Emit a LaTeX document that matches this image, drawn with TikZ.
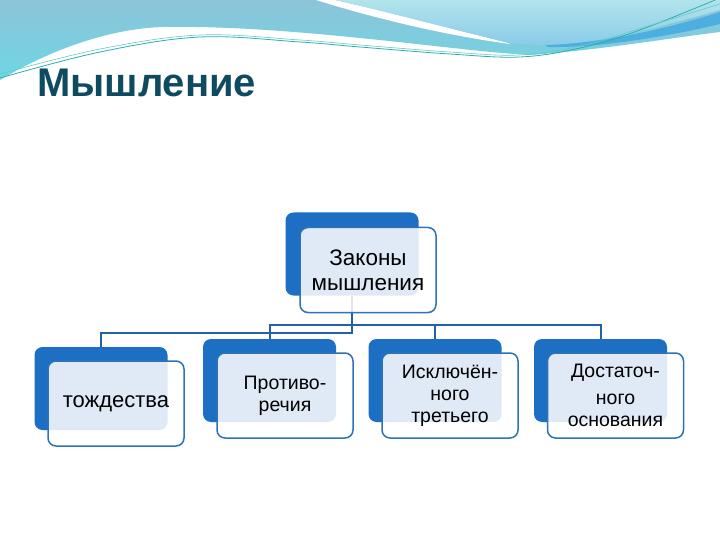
\documentclass[tikz,border=0pt]{standalone}
\usepackage{fontspec}
\setmainfont{Liberation Sans}
\definecolor{boxblue}{HTML}{1D6FC4}
\definecolor{edgeblue}{HTML}{2E72B8}
\definecolor{lineblue}{HTML}{2061A8}
\definecolor{titlecol}{HTML}{0E4A60}
\definecolor{lefttop}{HTML}{8CC4D8}
\definecolor{leftbot}{HTML}{6ED6E4}
\definecolor{righttop}{HTML}{B2E4EB}
\definecolor{rightbot}{HTML}{8ACBEA}
\definecolor{bandblue}{HTML}{4DAEE0}
\definecolor{tealline}{HTML}{2AAFB0}
\begin{document}
\begin{tikzpicture}[x=1pt,y=-1pt,
  back/.style={fill=boxblue, rounded corners=8pt, minimum width=133pt, minimum height=83pt, inner sep=0pt},
  front/.style={draw=edgeblue, line width=1.5pt, fill=white, fill opacity=0.86, text opacity=1, rounded corners=8pt, minimum width=136pt, minimum height=85pt, align=center, font=\fontsize{19.5}{22}\selectfont, inner sep=0pt},
  conn/.style={draw=lineblue, line width=2pt}]
\useasboundingbox (0,0) rectangle (720,540);
\fill[white] (0,0) rectangle (720,540);
% background waves
\shade[top color=lefttop, bottom color=leftbot]
  (0,0) -- (720,0) -- (720,32) .. controls (670,38) and (600,50) .. (530,55)
  .. controls (490,53) and (430,45) .. (360,38)
  .. controls (300,32) and (230,26) .. (165,27)
  .. controls (110,28) and (50,50) .. (0,80) -- cycle;
\fill[white] (316,0) .. controls (380,20) and (450,36) .. (510,44) -- (505,42)
  .. controls (440,26) and (380,10) .. (335,0) -- cycle;
\shade[top color=righttop, bottom color=rightbot]
  (335,0) -- (720,0) -- (720,10) .. controls (650,30) and (590,45) .. (545,45)
  .. controls (530,45) and (515,44) .. (505,42)
  .. controls (440,26) and (380,10) .. (335,0) -- cycle;
\fill[bandblue] (545,45) .. controls (600,44) and (670,28) .. (720,12) -- (720,24)
  .. controls (670,36) and (600,48) .. (548,47) -- cycle;
\draw[tealline, line width=0.8pt] plot[smooth, tension=0.6] coordinates
  {(0,78) (100,52) (200,37) (300,42) (360,47) (450,54) (520,57) (580,48) (640,30) (720,-2)};
\draw[tealline!70, line width=0.6pt] plot[smooth, tension=0.6] coordinates
  {(0,74) (100,49) (200,35) (300,40) (360,45) (450,52) (520,55) (585,45) (645,27) (720,4)};
% title
\node[anchor=base west, font=\bfseries\fontsize{40}{42}\selectfont, text=titlecol, inner sep=0pt] (title) at (37,97) {Мышление};
% back boxes
\node[back] (pb) at (352,254) {};
\node[back] (c1b) at (101,388.5) {};
\node[back] (c2b) at (269.5,380.5) {};
\node[back] (c3b) at (435,380.5) {};
\node[back] (c4b) at (600.5,380.5) {};
% connectors
\coordinate (j1) at (352,333);
\coordinate (j2) at (352,325);
\draw[conn] (pb.south) -- (j1) -| (c1b.north);
\draw[conn] (j2) -| (c2b.north);
\draw[conn] (j2) -| (c3b.north);
\draw[conn] (j2) -| (c4b.north);
% front boxes
\node[front, font=\fontsize{22.5}{25}\selectfont] (pf) at (368,270) {Законы\\мышления};
\node[front, font=\fontsize{22}{22}\selectfont] (c1f) at (116,403.5) {тождества};
\node[front] (c2f) at (285,395.5) {Противо-\\речия};
\node[front] (c3f) at (450,395.5) {Исключён-\\ного\\третьего};
\node[front] (c4f) at (615.5,395.5) {Достаточ-\\[5pt]ного\\основания};
\end{tikzpicture}
\end{document}
